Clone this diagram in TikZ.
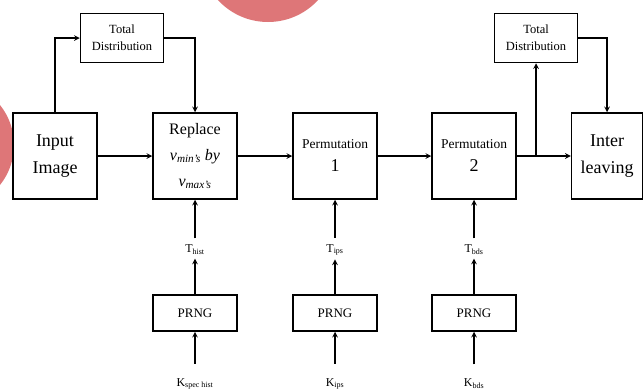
\documentclass[tikz,border=0pt]{standalone}
\usepackage{fontspec}
\setmainfont{Liberation Serif}
\usepackage{tikz}
\usetikzlibrary{arrows,positioning}

\definecolor{markpink}{RGB}{222,118,120}

\begin{document}
\begin{tikzpicture}[->,>=stealth, x=1pt, y=-1pt, line width=1.5pt,
    every node/.style={inner sep=0pt, align=center},
    bigbox/.style={draw, minimum width=84pt, minimum height=86pt},
    distbox/.style={draw, minimum width=83pt, minimum height=49pt,
        font=\fontsize{12.5}{17}\selectfont},
    prngbox/.style={draw, minimum width=84pt, minimum height=36pt,
        font=\fontsize{13}{14}\selectfont},
    keylabel/.style={font=\fontsize{12}{13}\selectfont}
    ]
\useasboundingbox (0,0) rectangle (643,391);
% marks in the corner
\begin{scope}[-]
\clip (0,0) rectangle (643,391);
\fill[markpink] (268,-46) circle (68);
\fill[markpink] (-50,145) circle (64);
\end{scope}
% main row
\node[bigbox, font=\fontsize{18}{27}\selectfont] (in)  at (55,156)  {Input\\Image};
\node[bigbox, font=\fontsize{16}{26}\selectfont] (rep) at (195,156)
    {Replace\\\textit{v\textsubscript{min's} by}\\\textit{v\textsubscript{max's}}};
\node[bigbox] (p1) at (335,156)
    {\fontsize{13.5}{15}\selectfont Permutation\\[10pt]\fontsize{18}{18}\selectfont 1};
\node[bigbox] (p2) at (474,156)
    {\fontsize{13.5}{15}\selectfont Permutation\\[10pt]\fontsize{18}{18}\selectfont 2};
\node[bigbox, minimum width=71pt, font=\fontsize{18}{27}\selectfont] (il) at (607,156) {Inter\\leaving};
% distribution boxes
\node[distbox] (td1) at (122,38) {Total\\Distribution};
\node[distbox] (td2) at (536,38) {Total\\Distribution};
% key generators
\node[prngbox] (g1) at (195,313) {PRNG};
\node[prngbox] (g2) at (335,313) {PRNG};
\node[prngbox] (g3) at (474,313) {PRNG};
\node[keylabel] (t1) at (195,250) {T\textsubscript{hist}};
\node[keylabel] (t2) at (335,250) {T\textsubscript{ips}};
\node[keylabel] (t3) at (474,250) {T\textsubscript{bds}};
\node[keylabel] (k1) at (195,384) {K\textsubscript{spec hist}};
\node[keylabel] (k2) at (335,384) {K\textsubscript{ips}};
\node[keylabel] (k3) at (474,384) {K\textsubscript{bds}};
\coordinate (j) at (536,156);
\path
(in)  edge [] (rep)
(rep) edge [] (p1)
(p1)  edge [] (p2)
(g1)  edge [shorten >=3pt] (t1)
(g2)  edge [shorten >=3pt] (t2)
(g3)  edge [shorten >=3pt] (t3)
(t1)  edge [shorten <=6pt] (rep)
(t2)  edge [shorten <=6pt] (p1)
(t3)  edge [shorten <=6pt] (p2)
(k1)  edge [shorten <=14pt] (g1)
(k2)  edge [shorten <=14pt] (g2)
(k3)  edge [shorten <=14pt] (g3)
;
\draw (in.north) |- (td1.west);
\draw (td1.east) -| (rep.north);
\draw (p2) -- (il);
\draw (j) -- (td2.south);
\draw (td2.east) -| (il.north);
\end{tikzpicture}
\end{document}
